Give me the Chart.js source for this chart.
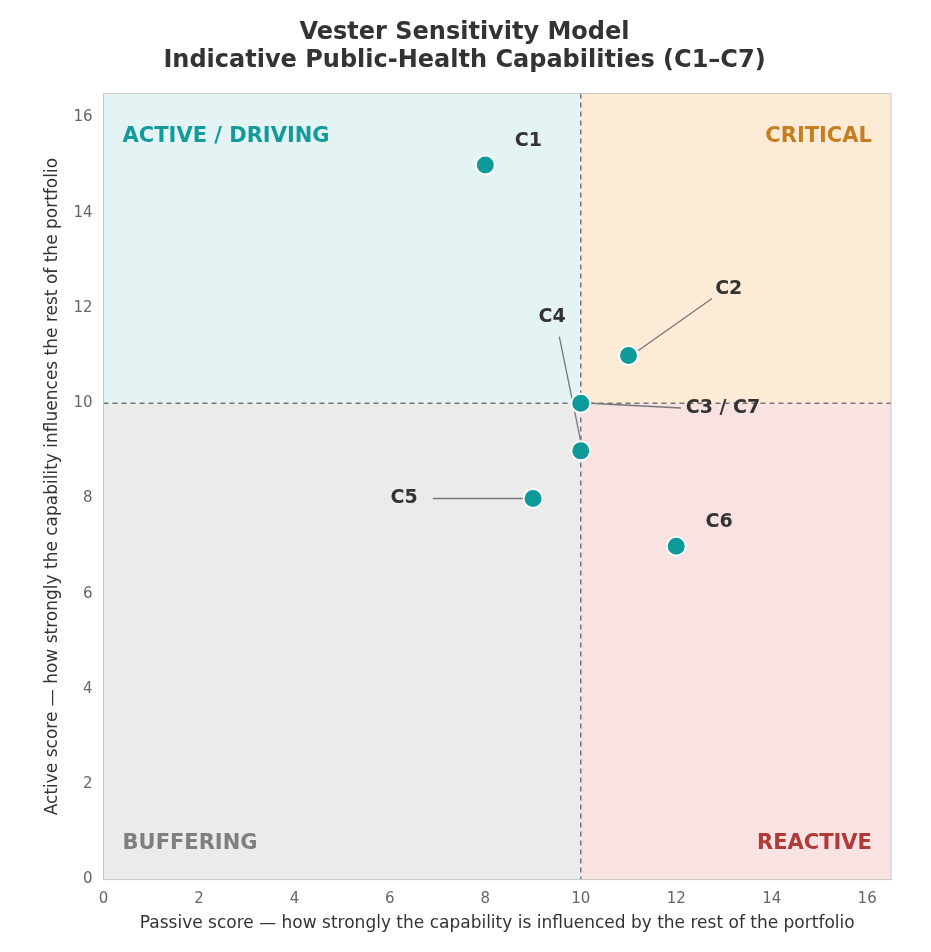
<!DOCTYPE html>
<html><head><meta charset="utf-8">
<script src="https://cdn.jsdelivr.net/npm/chart.js@4"></script>
<style>html,body{margin:0;padding:0;background:#fff}#w{width:931px;height:952px}</style>
</head><body><div id="w"><canvas id="c"></canvas></div>
<script>
const labels = ['C1','C2','C3 / C7','C4','C5','C6'];
const passive = [8, 11, 10, 10, 9, 12];
const active = [15, 11, 10, 9, 8, 7];
const tickValues = [0,2,4,6,8,10,12,14,16];
const labelPos = [[8.9,15.5],[13.1,12.4],[12.2,9.9],[9.4,11.8],[6.3,8],[12.9,7.5]];
const labelAlign = ['center','center','left','center','center','center'];
const leaderFrom = [null,[11.2,11.1],[10.2,10],[9.55,11.4],[6.9,8],null];
const leaderTo = [null,[12.75,12.2],[12.1,9.9],[10,9.2],[8.8,8],null];
const quadrants = [
  {x0:0,x1:10,y0:10,y1:16.5,fill:'#e4f4f4',text:'ACTIVE / DRIVING',color:'#139a9a',tx:0.4,ty:15.6,align:'left'},
  {x0:10,x1:16.5,y0:10,y1:16.5,fill:'#fcecd6',text:'CRITICAL',color:'#c87d22',tx:16.1,ty:15.6,align:'right'},
  {x0:0,x1:10,y0:0,y1:10,fill:'#ebebeb',text:'BUFFERING',color:'#7f7f7f',tx:0.4,ty:0.75,align:'left'},
  {x0:10,x1:16.5,y0:0,y1:10,fill:'#f8e2e2',text:'REACTIVE',color:'#b03a3a',tx:16.1,ty:0.75,align:'right'}
];
const F='"DejaVu Sans", sans-serif';
const plug={id:'q',
 beforeDatasetsDraw(ch){const {ctx,scales:{x,y}}=ch;ctx.save();
  quadrants.forEach(q=>{ctx.fillStyle=q.fill;ctx.fillRect(x.getPixelForValue(q.x0),y.getPixelForValue(q.y1),x.getPixelForValue(q.x1)-x.getPixelForValue(q.x0),y.getPixelForValue(q.y0)-y.getPixelForValue(q.y1));});
  quadrants.forEach(q=>{ctx.fillStyle=q.color;ctx.font='bold 21px '+F;ctx.textAlign=q.align;ctx.textBaseline='middle';ctx.fillText(q.text,x.getPixelForValue(q.tx),y.getPixelForValue(q.ty));});
  ctx.setLineDash([5,4]);ctx.strokeStyle='#777';ctx.lineWidth=1.5;
  ctx.beginPath();ctx.moveTo(x.getPixelForValue(10),y.top);ctx.lineTo(x.getPixelForValue(10),y.bottom);
  ctx.moveTo(x.left,y.getPixelForValue(10));ctx.lineTo(x.right,y.getPixelForValue(10));ctx.stroke();ctx.setLineDash([]);
  ctx.strokeStyle='#777';ctx.lineWidth=1.3;
  leaderFrom.forEach((f,i)=>{if(!f)return;ctx.beginPath();ctx.moveTo(x.getPixelForValue(f[0]),y.getPixelForValue(f[1]));ctx.lineTo(x.getPixelForValue(leaderTo[i][0]),y.getPixelForValue(leaderTo[i][1]));ctx.stroke();});
  ctx.strokeStyle='#c8c8c8';ctx.lineWidth=1;ctx.strokeRect(x.left,y.top,x.right-x.left,y.bottom-y.top);
  ctx.restore();},
 afterDatasetsDraw(ch){const {ctx,scales:{x,y}}=ch;ctx.save();ctx.fillStyle='#333';ctx.font='bold 19px '+F;ctx.textBaseline='middle';
  labels.forEach((l,i)=>{ctx.textAlign=labelAlign[i];ctx.fillText(l,x.getPixelForValue(labelPos[i][0]),y.getPixelForValue(labelPos[i][1]));});ctx.restore();}
};
const setTicks = s => { s.ticks = tickValues.map(v=>({value:v})); };
new Chart(document.getElementById('c'),{type:'scatter',
 data:{datasets:[{data:passive.map((v,i)=>({x:v,y:active[i]})),backgroundColor:'#0f9a9a',borderColor:'#fff',borderWidth:2,pointRadius:9.5,pointHoverRadius:9.5}]},
 options:{responsive:true,maintainAspectRatio:false,animation:false,
  layout:{padding:{left:38,right:40,top:12,bottom:14}},
  plugins:{legend:{display:false},tooltip:{enabled:false},
   title:{display:true,text:['Vester Sensitivity Model','Indicative Public-Health Capabilities (C1–C7)'],color:'#333',font:{family:F,size:24,weight:'bold'},padding:{top:6,bottom:18},lineHeight:1.15}},
  scales:{
   x:{min:0,max:16.5,afterBuildTicks:setTicks,grid:{display:false},border:{color:'#c8c8c8'},ticks:{color:'#666',font:{family:F,size:15}},
      title:{display:true,text:'Passive score — how strongly the capability is influenced by the rest of the portfolio',color:'#333',font:{family:F,size:17},padding:{top:2}}},
   y:{min:0,max:16.5,afterBuildTicks:setTicks,grid:{display:false},border:{color:'#c8c8c8'},ticks:{color:'#666',font:{family:F,size:15}},
      title:{display:true,text:'Active score — how strongly the capability influences the rest of the portfolio',color:'#333',font:{family:F,size:17},padding:{bottom:8}}}
  }},
 plugins:[plug]});
</script></body></html>
